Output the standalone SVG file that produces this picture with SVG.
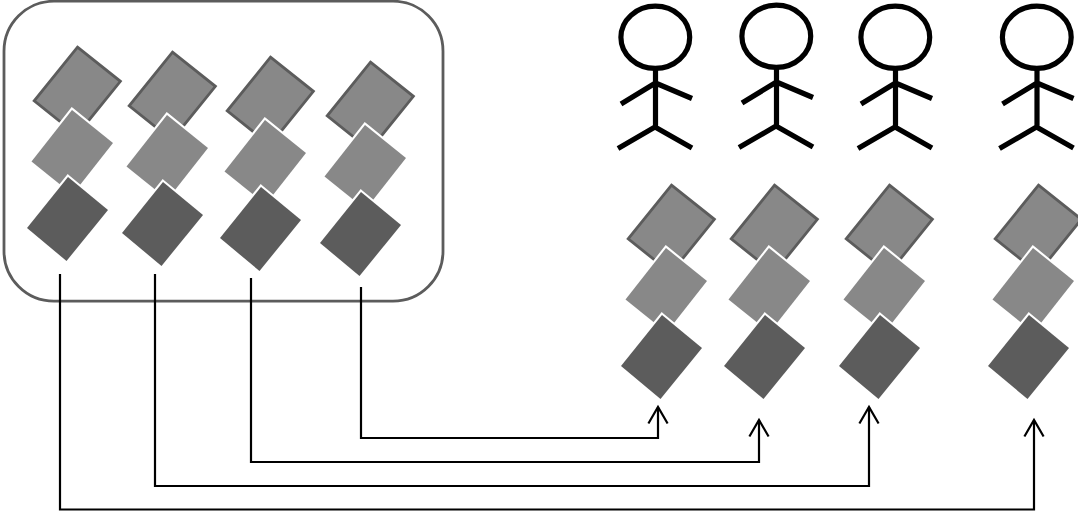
<svg xmlns="http://www.w3.org/2000/svg" xmlns:xlink="http://www.w3.org/1999/xlink" width="1078" height="515" viewBox="0 0 1078 515">
<style>
.bg{fill:#fff}
.frame{fill:#fff;stroke:#5c5c5c;stroke-width:2.8}
.top{fill:#888;stroke:#5c5c5c;stroke-width:2.8}
.mid{fill:#888;stroke:#fff;stroke-width:4.2;paint-order:stroke}
.bot{fill:#5c5c5c;stroke:#fff;stroke-width:4.2;paint-order:stroke}
.fig{fill:none;stroke:#000;stroke-width:5.2}
.conn{fill:none;stroke:#000;stroke-width:2.2;marker-end:url(#open)}
</style>
<defs>
<marker id="open" markerUnits="userSpaceOnUse" markerWidth="24" markerHeight="24" refX="20" refY="12" orient="auto" overflow="visible">
<path d="M3.500 2.400L20 12L3.500 21.600" fill="none" stroke="#000" stroke-width="2.200"/>
</marker>
<g id="stack">
<path class="top" d="M77.500 47.200L120.400 81.300L77 135L34.200 100.900Z"/>
<path class="mid" d="M72 110L113 143L72.500 194.500L31.500 161.500Z"/>
<path class="bot" d="M68 177L108 210L66.500 261L27 228Z"/>
</g>
<g id="person">
<ellipse class="fig" cx="655.300" cy="37.300" rx="34.400" ry="31.100"/>
<path class="fig" d="M655.500 69V127M621 104L655.500 83L692 98.500M618 148.500L655 127L692 148"/>
</g>
</defs>
<rect class="bg" width="1078" height="515"/>
<g id="source-frame"><rect class="frame" x="4" y="1.200" width="439" height="300" rx="50" ry="50"/></g>
<g id="source-stack-1"><use href="#stack"/></g>
<g id="source-stack-2"><use href="#stack" x="95" y="5"/></g>
<g id="source-stack-3"><use href="#stack" x="193" y="10"/></g>
<g id="source-stack-4"><use href="#stack" x="293" y="15"/></g>
<g id="person-1"><use href="#person"/></g>
<g id="person-2"><use href="#person" x="121" y="-1"/></g>
<g id="person-3"><use href="#person" x="240" y="0"/></g>
<g id="person-4"><use href="#person" x="381.500" y="0"/></g>
<g id="target-stack-1"><use href="#stack" x="594" y="138"/></g>
<g id="target-stack-2"><use href="#stack" x="697" y="138"/></g>
<g id="target-stack-3"><use href="#stack" x="812" y="138"/></g>
<g id="target-stack-4"><use href="#stack" x="961" y="138"/></g>
<g id="connectors">
<path class="conn" d="M361 287V438H658V407"/>
<path class="conn" d="M251 278V462H759V420"/>
<path class="conn" d="M155 274V486H869V407"/>
<path class="conn" d="M60 274V509.500H1034V420"/>
</g>
</svg>
